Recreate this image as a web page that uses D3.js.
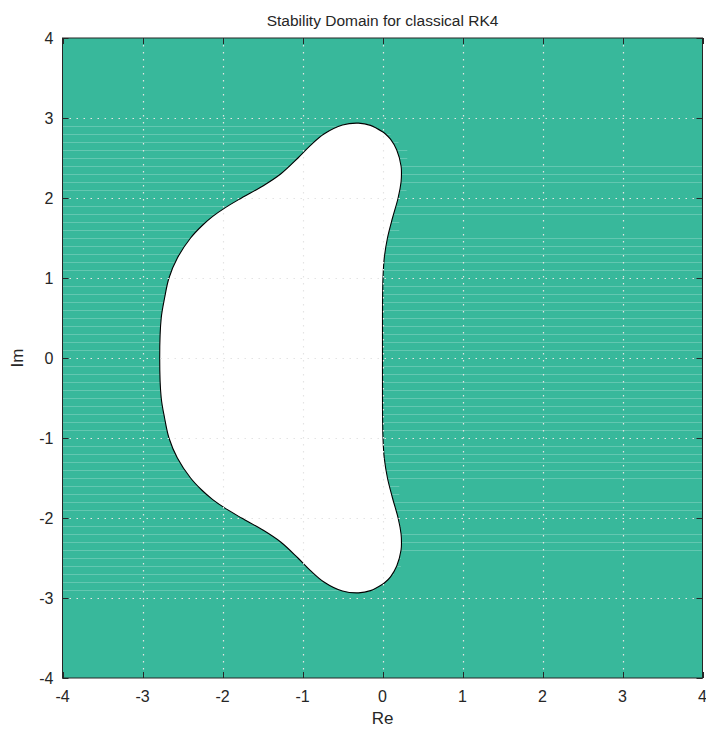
<!DOCTYPE html>
<html><head><meta charset="utf-8">
<script src="https://cdn.jsdelivr.net/npm/d3@7"></script>
<style>body{margin:0;background:#fff}text{font-family:"Liberation Sans",Arial,Helvetica,sans-serif;fill:#262626}</style>
</head><body><svg id="c" width="706" height="732"></svg>
<script>
const title = "Stability Domain for classical RK4";
const xLabel = "Re", yLabel = "Im";
const xTicks = [-4,-3,-2,-1,0,1,2,3,4];
const yTicks = [-4,-3,-2,-1,0,1,2,3,4];
// boundary of the stability region (Re, Im), going round once
const boundaryRe = [0.000,0.000,0.001,0.006,0.022,0.062,0.125,0.195,0.232,0.237,0.232,0.178,0.100,0.037,0.000,-0.150,-0.300,-0.500,-0.732,-0.900,-1.057,-1.273,-1.496,-1.762,-1.964,-2.122,-2.260,-2.399,-2.564,-2.669,-2.724,-2.766,-2.785,
  -2.766,-2.724,-2.669,-2.564,-2.399,-2.260,-2.122,-1.964,-1.762,-1.496,-1.273,-1.057,-0.900,-0.732,-0.500,-0.300,-0.150,0.000,0.037,0.100,0.178,0.232,0.237,0.232,0.195,0.125,0.062,0.022,0.006,0.001,0.000];
const boundaryIm = [0.000,0.500,0.750,1.000,1.250,1.500,1.750,2.000,2.200,2.300,2.400,2.600,2.735,2.800,2.828,2.908,2.936,2.913,2.800,2.658,2.500,2.300,2.150,2.000,1.880,1.770,1.650,1.500,1.250,1.000,0.750,0.500,0.000,
  -0.500,-0.750,-1.000,-1.250,-1.500,-1.650,-1.770,-1.880,-2.000,-2.150,-2.300,-2.500,-2.658,-2.800,-2.913,-2.936,-2.908,-2.828,-2.800,-2.735,-2.600,-2.400,-2.300,-2.200,-2.000,-1.750,-1.500,-1.250,-1.000,-0.750,-0.500];
// faint fill-strip seams seen in the green area: level and where each ends on the right
const seamIm  = [2.9,2.8,2.7,2.6,2.5,2.4,2.3,2.2,2.1,1.9,1.8,1.7,1.6,1.5,1.4,1.3,1.2,1.1,0.9,0.8,0.7,0.6,0.5,0.4,0.3,0.2,0.1,
                 -0.1,-0.2,-0.3,-0.4,-0.5,-0.6,-0.7,-0.8,-0.9,-1.1,-1.2,-1.3,-1.4,-1.5,-1.6,-1.7,-1.8,-1.9,-2.1,-2.2,-2.3,-2.4,-2.5,-2.6,-2.7,-2.8,-2.9];
const seamEnd = [-0.1,0.1,0.2,0.31,0.31,4,4,4,0.3,4,4,0.21,0.21,4,4,4,4,4,4,4,4,4,4,4,4,4,4,
                 4,4,4,4,4,4,4,4,4,4,4,4,4,4,0.21,0.21,4,4,0.23,4,4,4,0.23,0.23,0.14,0.0,-0.1];

const svg = d3.select("#c");
const L=62.5, R=702.5, T=38, B=678;
const x = d3.scaleLinear().domain([-4,4]).range([L,R]);
const y = d3.scaleLinear().domain([-4,4]).range([B,T]);
const green = "#38b89b";

svg.append("rect").attr("x",L).attr("y",T).attr("width",R-L).attr("height",B-T).attr("fill",green);
svg.append("g").selectAll("line").data(seamIm).join("line")
  .attr("x1",L).attr("x2",(d,i)=>x(seamEnd[i]))
  .attr("y1",d=>Math.round(y(d))+0.5).attr("y2",d=>Math.round(y(d))+0.5)
  .attr("stroke","rgba(255,255,255,0.22)").attr("stroke-width",1);

const pts = boundaryRe.map((r,i)=>[x(r), y(boundaryIm[i])]);
svg.append("path").attr("d", d3.line().curve(d3.curveCatmullRomClosed.alpha(0.5))(pts))
  .attr("fill","#fff").attr("stroke","#000").attr("stroke-width",1.1);

// grid
const g = svg.append("g");
g.selectAll(".gx").data(xTicks.slice(1,-1)).join("line")
  .attr("x1",d=>Math.round(x(d))+0.5).attr("x2",d=>Math.round(x(d))+0.5).attr("y1",T).attr("y2",B)
  .attr("stroke","#e4e4e4").attr("stroke-dasharray","1.5,5.5").attr("stroke-width",1.2);
g.selectAll(".gy").data(yTicks.slice(1,-1)).join("line")
  .attr("y1",d=>Math.round(y(d))+0.5).attr("y2",d=>Math.round(y(d))+0.5).attr("x1",L).attr("x2",R)
  .attr("stroke","#e4e4e4").attr("stroke-dasharray","1.5,5.5").attr("stroke-width",1.2);

// axes box with inward ticks
const ax = svg.append("g");
ax.append("rect").attr("x",L).attr("y",T).attr("width",R-L).attr("height",B-T).attr("fill","none").attr("stroke","#262626").attr("stroke-width",1);
const tl = 6;
xTicks.forEach(t=>{
  const px = Math.round(x(t))+0.5;
  ax.append("line").attr("x1",px).attr("x2",px).attr("y1",B).attr("y2",B-tl).attr("stroke","#262626");
  ax.append("line").attr("x1",px).attr("x2",px).attr("y1",T).attr("y2",T+tl).attr("stroke","#262626");
  ax.append("text").attr("x",x(t)).attr("y",B+24).attr("text-anchor","middle").attr("font-size",16).text(t);
});
yTicks.forEach(t=>{
  const py = Math.round(y(t))+0.5;
  ax.append("line").attr("y1",py).attr("y2",py).attr("x1",L).attr("x2",L+tl).attr("stroke","#262626");
  ax.append("line").attr("y1",py).attr("y2",py).attr("x1",R).attr("x2",R-tl).attr("stroke","#262626");
  ax.append("text").attr("x",L-9).attr("y",y(t)).attr("dy","0.36em").attr("text-anchor","end").attr("font-size",16).text(t);
});
svg.append("text").attr("x",(L+R)/2).attr("y",B+46).attr("text-anchor","middle").attr("font-size",17).text(xLabel);
svg.append("text").attr("transform",`translate(23,${(T+B)/2}) rotate(-90)`).attr("text-anchor","middle").attr("font-size",17).text(yLabel);
svg.append("text").attr("x",(L+R)/2).attr("y",26).attr("text-anchor","middle").attr("font-size",15.5).text(title);
</script></body></html>
